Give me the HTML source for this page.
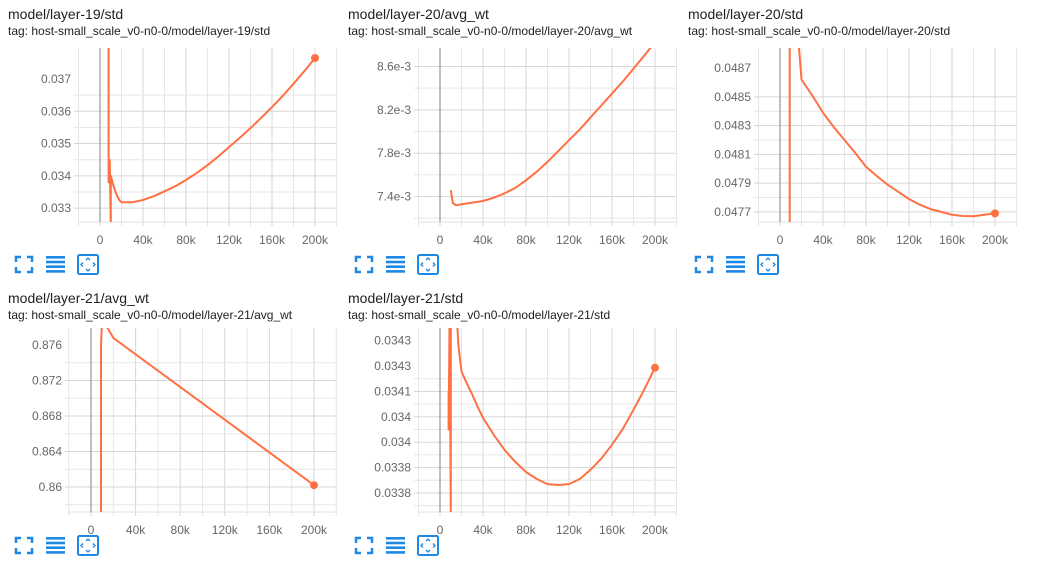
<!DOCTYPE html>
<html><head><meta charset="utf-8">
<style>
body{margin:0;width:1045px;height:568px;background:#fff;font-family:"Liberation Sans",sans-serif;overflow:hidden}
svg{position:absolute;left:0;top:0}
</style></head>
<body>
<svg id="s" width="1045" height="568"></svg>
<script>
// chart 1: layer-19/std
const c1Steps=[8000,8000,9000,10000,10000,12000,15000,18000,20000,30000,40000,50000,60000,70000,80000,90000,100000,110000,120000,130000,140000,150000,160000,170000,180000,190000,200000];
const c1Vals=[0.039,0.0338,0.0345,0.0325,0.0340,0.03375,0.03345,0.03325,0.03318,0.03318,0.03325,0.03337,0.03352,0.03368,0.03387,0.03409,0.03433,0.0346,0.03489,0.03518,0.03548,0.0358,0.03613,0.03648,0.03685,0.03724,0.03765];
const c1Ticks=[0.033,0.034,0.035,0.036,0.037];
const c1Labels=["0.033","0.034","0.035","0.036","0.037"];
// chart 2: layer-20/avg_wt
const c2Steps=[10000,12000,15000,20000,30000,40000,50000,60000,70000,80000,90000,100000,110000,120000,130000,140000,150000,160000,170000,180000,190000,198000];
const c2Vals=[7.46e-3,7.34e-3,7.32e-3,7.33e-3,7.345e-3,7.36e-3,7.39e-3,7.43e-3,7.48e-3,7.55e-3,7.63e-3,7.72e-3,7.82e-3,7.92e-3,8.02e-3,8.13e-3,8.24e-3,8.35e-3,8.46e-3,8.58e-3,8.70e-3,8.80e-3];
const c2Ticks=[7.4e-3,7.8e-3,8.2e-3,8.6e-3];
const c2Labels=["7.4e-3","7.8e-3","8.2e-3","8.6e-3"];
// chart 3: layer-20/std
const c3Steps=[9000,9000,10000,16000,20000,30000,40000,50000,60000,70000,80000,90000,100000,110000,120000,130000,140000,150000,160000,170000,180000,190000,200000];
const c3Vals=[0.04763,0.0490,0.0490,0.0490,0.04862,0.04851,0.04839,0.04829,0.04820,0.04811,0.048014,0.04795,0.04789,0.04784,0.04779,0.04775,0.04772,0.04770,0.04768,0.047672,0.04767,0.04768,0.04769];
const c3Ticks=[0.0477,0.0479,0.0481,0.0483,0.0485,0.0487];
const c3Labels=["0.0477","0.0479","0.0481","0.0483","0.0485","0.0487"];
// chart 4: layer-21/avg_wt
const c4Steps=[9000,9000,10000,20000,200000];
const c4Vals=[0.8570,0.8760,0.8790,0.8768,0.8602];
const c4Ticks=[0.86,0.864,0.868,0.872,0.876];
const c4Labels=["0.86","0.864","0.868","0.872","0.876"];
// chart 5: layer-21/std
const c5Steps=[8000,8000,9000,10000,10000,15000,17000,20000,25000,30000,35000,40000,50000,60000,70000,80000,90000,100000,110000,120000,130000,140000,150000,160000,170000,180000,190000,200000];
const c5Vals=[0.03412,0.0340,0.03440,0.03370,0.03440,0.03440,0.034268,0.034183,0.034145,0.03411,0.034072,0.034037,0.033983,0.033936,0.033898,0.033866,0.033844,0.033828,0.033825,0.033828,0.033844,0.033873,0.033908,0.033952,0.034002,0.034062,0.034126,0.034195];
const c5Ticks=[0.0338,0.03388,0.03396,0.03404,0.03412,0.0342,0.03428];
const c5Labels=["0.0338","0.0338","0.034","0.034","0.0341","0.0343","0.0343"];
const xTicks=[0,40000,80000,120000,160000,200000];
const xLabels=["0","40k","80k","120k","160k","200k"];

const NS="http://www.w3.org/2000/svg";
const S=document.getElementById('s');
function mk(t,a,p){const e=document.createElementNS(NS,t);for(const k in a)e.setAttribute(k,a[k]);(p||S).appendChild(e);return e;}

function chart(cfg){
  const g=mk('g',{});
  
  
  const {L,R,T,B,x0,x200,ymin,ymax}=cfg;
  const xs=v=>x0+(x200-x0)*v/200000;
  const ys=v=>B-(v-ymin)/(ymax-ymin)*(B-T);
  const t1=mk('text',{x:cfg.tx,y:cfg.ty,'font-size':14,fill:'#212121'},g);t1.textContent=cfg.title;
  
  const t2=mk('text',{x:cfg.tx,y:cfg.ty+16,'font-size':12,fill:'#212121'},g);t2.textContent=cfg.tag;
  
  for(let s=-20000;s<=220000;s+=20000){const x=xs(s);if(x<L-1||x>R+1)continue;
    mk('line',{x1:x,x2:x,y1:T,y2:B+4,stroke:s%40000===0?'#d6d6d6':'#e6e6e6','stroke-width':1},g);}
  const st=cfg.ticks[1]-cfg.ticks[0];
  for(let k=-3;k<cfg.ticks.length+3;k++){const v=cfg.ticks[0]+k*st/2;const y=ys(v);if(y<T||y>B)continue;
    mk('line',{x1:L-4,x2:R,y1:y,y2:y,stroke:k%2===0?'#d6d6d6':'#e6e6e6','stroke-width':1},g);}
  mk('line',{x1:L,x2:R,y1:B,y2:B,stroke:'#e0e0e0'},g);
  mk('line',{x1:xs(0),x2:xs(0),y1:T,y2:B,stroke:'#9e9e9e','stroke-width':1.3},g);
  cfg.ticks.forEach((v,i)=>{const e=mk('text',{x:L-7,y:ys(v)+4,'font-size':12,fill:'#666','text-anchor':'end'},g);e.textContent=cfg.labels[i];
    });
  xTicks.forEach((v,i)=>{const e=mk('text',{x:xs(v),y:B+22,'font-size':12,fill:'#666','text-anchor':'middle'},g);e.textContent=xLabels[i];
    });
  const cid='c'+cfg.name;const cp=mk('clipPath',{id:cid},g);mk('rect',{x:L,y:T,width:R-L,height:B-T},cp);
  const d=cfg.steps.map((s,i)=>(i?'L':'M')+xs(s).toFixed(1)+','+ys(cfg.vals[i]).toFixed(1)).join('');
  const p=mk('path',{d:d,fill:'none',stroke:'#ff7043','stroke-width':2,'clip-path':'url(#'+cid+')','stroke-linejoin':'round'},g);
  
  if(cfg.dot){const n=cfg.steps.length-1;const c=mk('circle',{cx:xs(cfg.steps[n]),cy:ys(cfg.vals[n]),r:4,fill:'#ff7043'},g);
    }
  const iy=cfg.iy, ix=cfg.ix, col='#1e88e5';
  const ic1=mk('g',{},g);
  mk('path',{d:`M${ix},${iy+5}V${iy}H${ix+5}M${ix+11},${iy}H${ix+16}V${iy+5}M${ix+16},${iy+10}V${iy+15}H${ix+11}M${ix+5},${iy+15}H${ix}V${iy+10}`,fill:'none',stroke:col,'stroke-width':2.5},ic1);
  const ic2=mk('g',{},g);
  for(let k=0;k<4;k++)mk('rect',{x:ix+30,y:iy-1+k*4.7,width:19,height:2.6,fill:col},ic2);
  const ic3=mk('g',{},g);
  mk('rect',{x:ix+62,y:iy-2,width:20,height:19,rx:1.5,fill:'none',stroke:col,'stroke-width':2},ic3);
  mk('path',{d:`M${ix+70},${iy+3}l2,-2l2,2M${ix+70},${iy+12}l2,2l2,-2M${ix+67},${iy+5.5}l-2,2l2,2M${ix+77},${iy+5.5}l2,2l-2,2`,fill:'none',stroke:col,'stroke-width':1.3},ic3);
}
chart({name:'chart-layer-19-std',title:'model/layer-19/std',tag:'tag: host-small_scale_v0-n0-0/model/layer-19/std',tx:8,ty:19,
  L:78,R:336,T:48,B:222,x0:100,x200:315,ymin:0.03257,ymax:0.03796,ticks:c1Ticks,labels:c1Labels,steps:c1Steps,vals:c1Vals,dot:true,ix:16,iy:257});
chart({name:'chart-layer-20-avg-wt',title:'model/layer-20/avg_wt',tag:'tag: host-small_scale_v0-n0-0/model/layer-20/avg_wt',tx:348,ty:19,
  L:418,R:676,T:48,B:222,x0:440,x200:655,ymin:7.166e-3,ymax:8.77e-3,ticks:c2Ticks,labels:c2Labels,steps:c2Steps,vals:c2Vals,dot:false,ix:356,iy:257});
chart({name:'chart-layer-20-std',title:'model/layer-20/std',tag:'tag: host-small_scale_v0-n0-0/model/layer-20/std',tx:688,ty:19,
  L:758,R:1016,T:48,B:222,x0:780,x200:995,ymin:0.04763,ymax:0.04884,ticks:c3Ticks,labels:c3Labels,steps:c3Steps,vals:c3Vals,dot:true,ix:696,iy:257});
chart({name:'chart-layer-21-avg-wt',title:'model/layer-21/avg_wt',tag:'tag: host-small_scale_v0-n0-0/model/layer-21/avg_wt',tx:8,ty:303,
  L:69,R:336,T:328,B:512,x0:91,x200:314,ymin:0.85718,ymax:0.87792,ticks:c4Ticks,labels:c4Labels,steps:c4Steps,vals:c4Vals,dot:true,ix:16,iy:538});
chart({name:'chart-layer-21-std',title:'model/layer-21/std',tag:'tag: host-small_scale_v0-n0-0/model/layer-21/std',tx:348,ty:303,
  L:418,R:676,T:328,B:512,x0:440,x200:655,ymin:0.03374,ymax:0.03432,ticks:c5Ticks,labels:c5Labels,steps:c5Steps,vals:c5Vals,dot:true,ix:356,iy:538});
</script>
</body></html>
